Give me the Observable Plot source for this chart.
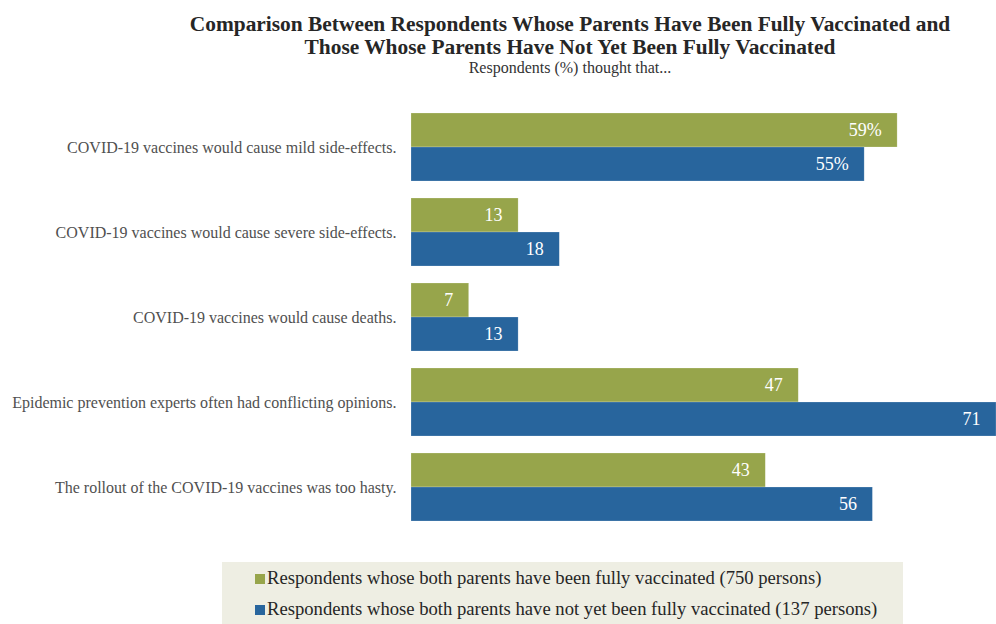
<!DOCTYPE html>
<html>
<head>
<meta charset="utf-8">
<script src="https://cdn.jsdelivr.net/npm/d3@7"></script>
<script src="https://cdn.jsdelivr.net/npm/@observablehq/plot@0.6"></script>
<style>
  html, body { margin: 0; padding: 0; background: #fff; }
  body { width: 996px; height: 624px; position: relative; overflow: hidden; font-family: "Liberation Serif", "Times New Roman", serif; }
  .title { position: absolute; left: 0; width: 1140px; top: 13px; text-align: center; font-weight: bold; font-size: 21.4px; line-height: 23px; color: #262626; white-space: nowrap; }
  .subtitle { position: absolute; left: 0; width: 1140px; top: 59px; text-align: center; font-size: 16px; color: #333; }
  #chart { position: absolute; left: 0; top: 80px; }
  .legend { position: absolute; left: 222px; top: 562px; width: 681px; height: 62px; background: #EEEEE3; }
  .legend .item { position: absolute; left: 33px; font-size: 18.65px; line-height: 22px; color: #262626; white-space: nowrap; }
  .legend .sw { display: inline-block; width: 10px; height: 10px; margin-right: 2px; vertical-align: 0px; }
</style>
</head>
<body>
<div class="title">Comparison Between Respondents Whose Parents Have Been Fully Vaccinated and<br>Those Whose Parents Have Not Yet Been Fully Vaccinated</div>
<div class="subtitle">Respondents (%) thought that...</div>
<div id="chart"></div>
<div class="legend" id="legend"></div>
<script>
const categories = [
  "COVID-19 vaccines would cause mild side-effects.",
  "COVID-19 vaccines would cause severe side-effects.",
  "COVID-19 vaccines would cause deaths.",
  "Epidemic prevention experts often had conflicting opinions.",
  "The rollout of the COVID-19 vaccines was too hasty."
];
const seriesNames = [
  "Respondents whose both parents have been fully vaccinated (750 persons)",
  "Respondents whose both parents have not yet been fully vaccinated (137 persons)"
];
const vaccinatedValues = [59, 13, 7, 47, 43];
const notVaccinatedValues = [55, 18, 13, 71, 56];
const colors = ["#97A54B", "#28659D"];

const data = [];
categories.forEach((c, i) => {
  data.push({category: c, series: seriesNames[0], value: vaccinatedValues[i], label: i === 0 ? vaccinatedValues[i] + "%" : String(vaccinatedValues[i])});
  data.push({category: c, series: seriesNames[1], value: notVaccinatedValues[i], label: i === 0 ? notVaccinatedValues[i] + "%" : String(notVaccinatedValues[i])});
});

const chart = Plot.plot({
  width: 996,
  height: 470,
  marginLeft: 411,
  marginRight: 0,
  marginTop: 33,
  marginBottom: 29,
  style: {fontFamily: "'Liberation Serif', 'Times New Roman', serif", background: "transparent"},
  x: {domain: [0, 71], axis: null},
  y: {domain: seriesNames, axis: null, padding: 0},
  fy: {domain: categories, paddingInner: 0.2, paddingOuter: 0, label: null},
  color: {domain: seriesNames, range: colors},
  facet: {data, y: "category"},
  marks: [
    Plot.axisFy({anchor: "left", tickSize: 0, tickPadding: 15, fontSize: 16, fill: "#505050", label: null}),
    Plot.barX(data, {fy: "category", y: "series", x: "value", fill: "series", stroke: "#ffffff", strokeOpacity: 0.35, strokeWidth: 0.6}),
    Plot.text(data, {fy: "category", y: "series", x: "value", text: "label", textAnchor: "end", dx: -16, fill: "white", fontSize: 18})
  ]
});
document.getElementById("chart").appendChild(chart);

const legend = document.getElementById("legend");
seriesNames.forEach((s, i) => {
  const div = document.createElement("div");
  div.className = "item";
  div.style.top = (i === 0 ? 5 : 36) + "px";
  const sw = document.createElement("span");
  sw.className = "sw";
  sw.style.background = colors[i];
  div.appendChild(sw);
  div.appendChild(document.createTextNode(s));
  legend.appendChild(div);
});
</script>
</body>
</html>
